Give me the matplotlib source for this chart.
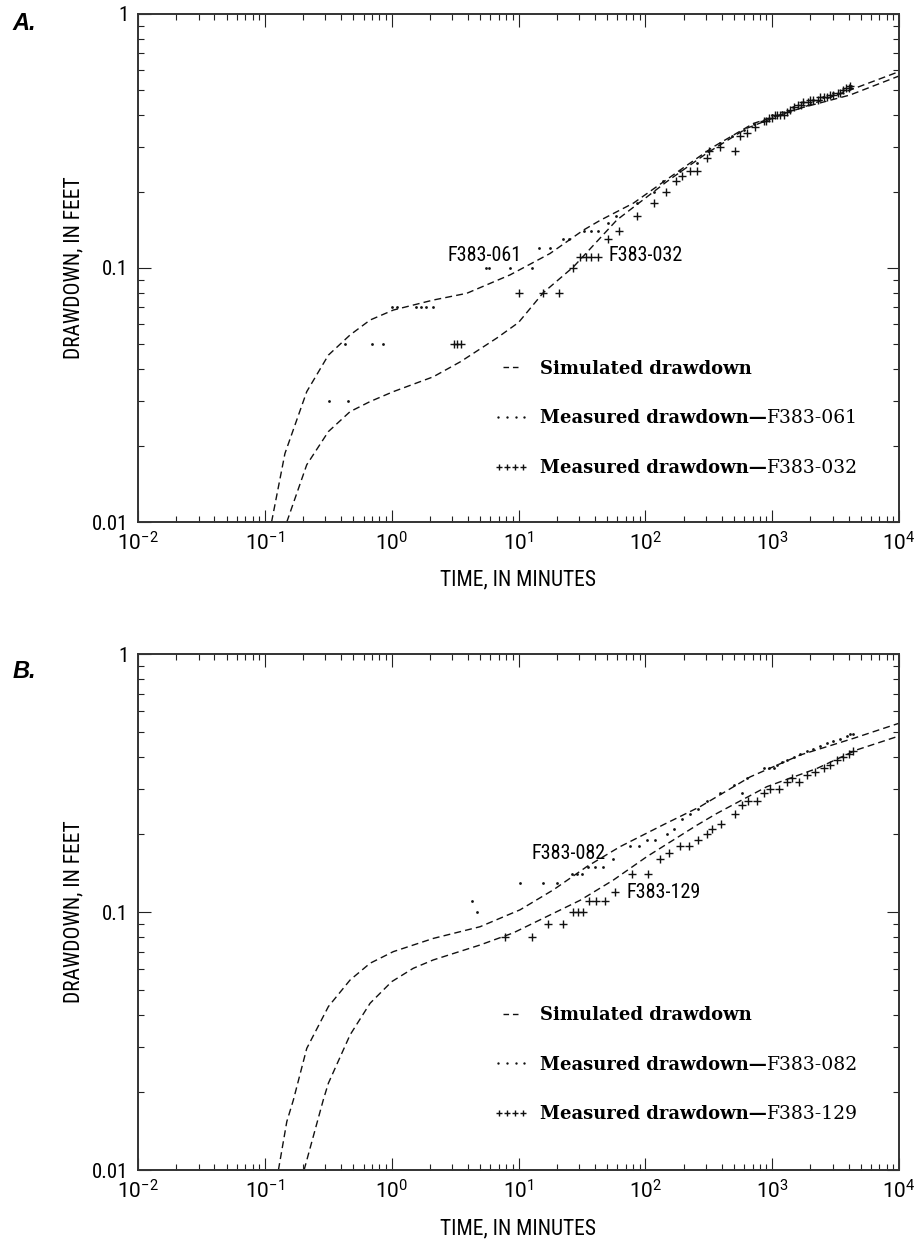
"""
Drawdown vs time, two log-log panels (A, B)
"""
import numpy as np
import matplotlib
matplotlib.use("Agg")
import matplotlib.pyplot as plt
import matplotlib.ticker as ticker
from matplotlib.lines import Line2D
from matplotlib.legend_handler import HandlerLine2D

# ---- Panel A: simulated curves ----
a_sim_061_t = [0.113, 0.144, 0.214, 0.317, 0.47, 0.676, 1.03, 2.13, 3.91, 8.6,
               17.7, 32.5, 44, 80.5, 188, 344, 713, 1663, 4120, 10000]
a_sim_061_d = [0.010, 0.0186, 0.0326, 0.0454, 0.0545, 0.0624, 0.0683, 0.0748, 0.0795, 0.094,
               0.114, 0.141, 0.154, 0.180, 0.243, 0.300, 0.371, 0.425, 0.502, 0.593]
a_sim_032_t = [0.149, 0.214, 0.317, 0.47, 0.676, 1.03, 2.13, 3.5, 6.75, 10,
               15.7, 27.1, 59.6, 148, 305, 632, 1500, 4120, 10000]
a_sim_032_d = [0.010, 0.0168, 0.0227, 0.0272, 0.0298, 0.0326, 0.0373, 0.0428, 0.053, 0.061,
               0.080, 0.101, 0.1545, 0.219, 0.283, 0.355, 0.420, 0.480, 0.570]

# ---- Panel A: measured ----
a_061_t = [0.32, 0.45, 0.43, 0.70, 0.86, 1.0, 1.1, 1.55, 1.7, 1.85, 2.1, 5.5, 5.9, 8.6,
           12.7, 14.4, 17.7, 22.5, 25, 33, 37, 42, 51, 59, 86, 116, 139, 188, 255, 314,
           390, 480, 600, 720, 850, 1000, 1200, 1450, 1750, 2100, 2500, 3000, 3600, 4200]
a_061_d = [0.03, 0.03, 0.05, 0.05, 0.05, 0.07, 0.07, 0.07, 0.07, 0.07, 0.07, 0.10, 0.10, 0.10,
           0.10, 0.12, 0.12, 0.13, 0.13, 0.14, 0.14, 0.14, 0.15, 0.16, 0.18, 0.20, 0.22, 0.24, 0.26, 0.29,
           0.31, 0.33, 0.35, 0.37, 0.38, 0.40, 0.41, 0.43, 0.45, 0.46, 0.47, 0.49, 0.50, 0.52]
a_032_t = [3.1, 3.3, 3.5, 10, 15.5, 21, 27, 30.6, 34, 37, 42.7, 51, 62, 86, 117, 145, 174, 194,
           226, 255, 305, 320, 389, 510, 560, 631, 735, 855, 900, 950, 995, 1050, 1096, 1150,
           1230, 1300, 1380, 1480, 1600, 1700, 1766, 1900, 2000, 2117, 2300, 2400, 2540, 2700,
           2850, 3042, 3300, 3450, 3650, 3850, 4000, 4120]
a_032_d = [0.05, 0.05, 0.05, 0.08, 0.08, 0.08, 0.10, 0.11, 0.11, 0.11, 0.11, 0.13, 0.14, 0.16, 0.18, 0.20, 0.22, 0.23,
           0.24, 0.24, 0.27, 0.29, 0.30, 0.29, 0.33, 0.34, 0.36, 0.38, 0.38, 0.39, 0.39, 0.40, 0.40, 0.40,
           0.40, 0.41, 0.42, 0.43, 0.44, 0.44, 0.45, 0.45, 0.46, 0.46, 0.46, 0.47, 0.47, 0.47,
           0.48, 0.48, 0.49, 0.49, 0.50, 0.51, 0.51, 0.52]

# ---- Panel B: simulated curves ----
b_sim_082_t = [0.128, 0.149, 0.168, 0.214, 0.317, 0.47, 0.676, 1.03, 2.13, 4.98,
               10.3, 18.9, 34.6, 63, 139, 270, 671, 1665, 4375, 10000]
b_sim_082_d = [0.010, 0.0154, 0.0187, 0.0296, 0.043, 0.0545, 0.0633, 0.0702, 0.079, 0.0877,
               0.102, 0.122, 0.150, 0.179, 0.218, 0.256, 0.334, 0.406, 0.471, 0.539]
b_sim_129_t = [0.204, 0.289, 0.317, 0.47, 0.676, 1.0, 1.48, 2.13, 4.98, 9.1,
               16.7, 30.6, 56, 103, 255, 366, 908, 2250, 4650, 10000]
b_sim_129_d = [0.010, 0.0187, 0.0217, 0.0334, 0.0443, 0.0537, 0.0605, 0.0652, 0.0745, 0.083,
               0.096, 0.111, 0.133, 0.164, 0.217, 0.241, 0.306, 0.360, 0.425, 0.481]

# ---- Panel B: measured ----
b_082_t = [4.3, 4.7, 10.3, 15.6, 20, 26.3, 29.1, 31.5, 35, 40, 46, 56, 76, 89, 103, 119, 148,
           167, 194, 225, 262, 305, 389, 496, 577, 632, 855, 940, 1030, 1100, 1200, 1300, 1473,
           1650, 1877, 2100, 2392, 2700, 3042, 3400, 3880, 4100, 4375]
b_082_d = [0.11, 0.10, 0.13, 0.13, 0.13, 0.14, 0.14, 0.14, 0.15, 0.15, 0.15, 0.16, 0.18, 0.18, 0.19, 0.19, 0.20,
           0.21, 0.23, 0.24, 0.25, 0.27, 0.29, 0.31, 0.29, 0.33, 0.36, 0.36, 0.36, 0.37, 0.38, 0.39, 0.40,
           0.41, 0.42, 0.43, 0.44, 0.45, 0.46, 0.47, 0.48, 0.49, 0.49]
b_129_t = [7.8, 12.7, 17.2, 22.3, 27, 29.7, 32.5, 36, 41, 48, 58, 78, 105, 131, 155, 188, 220,
           262, 309, 334, 398, 510, 575, 650, 757, 855, 964, 1122, 1306, 1430, 1614, 1877, 2180,
           2540, 2865, 3236, 3650, 4000, 4375]
b_129_d = [0.08, 0.08, 0.09, 0.09, 0.10, 0.10, 0.10, 0.11, 0.11, 0.11, 0.12, 0.14, 0.14, 0.16, 0.17, 0.18, 0.18,
           0.19, 0.20, 0.21, 0.22, 0.24, 0.26, 0.27, 0.27, 0.29, 0.30, 0.30, 0.32, 0.33, 0.32, 0.34, 0.35,
           0.36, 0.37, 0.39, 0.40, 0.41, 0.42]

x_limits = (1e-2, 1e4)
y_limits = (0.01, 1)
x_tick_exponents = [-2, -1, 0, 1, 2, 3, 4]
y_tick_values = [0.01, 0.1, 1]
y_tick_labels = ["0.01", "0.1", "1"]

SANS = ["Liberation Sans Narrow", "Roboto Condensed", "Roboto", "DejaVu Sans"]
SERIF = ["DejaVu Serif"]

plt.rcParams["font.family"] = SANS
plt.rcParams["mathtext.fontset"] = "custom"
plt.rcParams["mathtext.rm"] = "Roboto"
plt.rcParams["mathtext.default"] = "rm"

INK = "#111111"
TICK_SIZE = 15
LABEL_SIZE = 15.5
WELL_SIZE = 14.5


def minor_positions(lo_exp, hi_exp):
    return [m * 10.0 ** e for e in range(lo_exp, hi_exp) for m in range(2, 10)]


def setup_axes(ax):
    ax.set_xscale("log")
    ax.set_yscale("log")
    ax.set_xlim(*x_limits)
    ax.set_ylim(*y_limits)

    ax.xaxis.set_major_locator(ticker.FixedLocator([10.0 ** e for e in x_tick_exponents]))
    ax.xaxis.set_minor_locator(ticker.FixedLocator(minor_positions(-2, 4)))
    ax.xaxis.set_major_formatter(
        ticker.FixedFormatter([r"$\mathrm{10^{%d}}$" % e for e in x_tick_exponents])
    )
    ax.xaxis.set_minor_formatter(ticker.NullFormatter())

    ax.yaxis.set_major_locator(ticker.FixedLocator(y_tick_values))
    ax.yaxis.set_major_formatter(ticker.FixedFormatter(y_tick_labels))
    ax.yaxis.set_minor_locator(ticker.FixedLocator(minor_positions(-2, 0)))
    ax.yaxis.set_minor_formatter(ticker.NullFormatter())

    ax.tick_params(which="both", direction="in", top=True, right=True,
                   width=0.8, color="#222222")
    ax.tick_params(which="major", length=9, labelsize=TICK_SIZE, pad=7)
    ax.tick_params(which="minor", length=4.5)
    for s in ax.spines.values():
        s.set_linewidth(1.4)
        s.set_color("#333333")

    ax.set_xlabel("TIME, IN MINUTES", fontsize=LABEL_SIZE)
    ax.set_ylabel("DRAWDOWN, IN FEET", fontsize=LABEL_SIZE)
    ax.xaxis.set_label_coords(0.5, -0.093)
    ax.yaxis.set_label_coords(-0.07, 0.5)


def draw_panel(ax, sim_up, sim_lo, dots, crosses, id_dots, id_cross):
    for t, d in (sim_up, sim_lo):
        ax.plot(t, d, color=INK, lw=1.0, dashes=(5, 3))
    ax.plot(dots[0], dots[1], ls="none", marker="o", ms=2.0, color=INK, mew=0)
    ax.plot(crosses[0], crosses[1], ls="none", marker="+", ms=6, mew=1.0, color=INK)

    h_sim = Line2D([], [], color=INK, lw=1.0, dashes=(4, 2.8))
    h_dot = Line2D([], [], color=INK, ls="none", marker="o", ms=1.7, mew=0)
    h_crs = Line2D([], [], color=INK, ls="none", marker="+", ms=5, mew=1.0)
    leg = ax.legend(
        [h_sim, h_dot, h_crs],
        ["Simulated drawdown", "Measured drawdown\u2014", "Measured drawdown\u2014"],
        handler_map={h_dot: HandlerLine2D(marker_pad=0.05, numpoints=4),
                     h_crs: HandlerLine2D(marker_pad=0.1, numpoints=4)},
        loc="center left", bbox_to_anchor=(0.472, 0.204),
        frameon=False, numpoints=4, handlelength=1.55, handletextpad=0.8,
        labelspacing=1.75, borderpad=0, borderaxespad=0,
        prop={"family": SERIF, "weight": "bold", "size": 13},
    )
    texts = leg.get_texts()
    for txt, well in ((texts[1], id_dots), (texts[2], id_cross)):
        ax.annotate(well, xy=(1, 0), xycoords=txt, ha="left", va="bottom",
                    family=SERIF, fontsize=13.5, zorder=6)


fig = plt.figure(figsize=(9.18, 12.39), dpi=100)
ax_a = fig.add_axes([138 / 918, 1 - 522 / 1239, 761 / 918, 508 / 1239])
ax_b = fig.add_axes([138 / 918, 1 - 1170 / 1239, 761 / 918, 516 / 1239])

for ax in (ax_a, ax_b):
    setup_axes(ax)

draw_panel(ax_a, (a_sim_061_t, a_sim_061_d), (a_sim_032_t, a_sim_032_d),
           (a_061_t, a_061_d), (a_032_t, a_032_d), "F383-061", "F383-032")
ax_a.text(10.7, 0.1125, "F383-061", ha="right", va="center", fontsize=WELL_SIZE)
ax_a.text(51, 0.112, "F383-032", ha="left", va="center", fontsize=WELL_SIZE)

draw_panel(ax_b, (b_sim_082_t, b_sim_082_d), (b_sim_129_t, b_sim_129_d),
           (b_082_t, b_082_d), (b_129_t, b_129_d), "F383-082", "F383-129")
ax_b.text(12.7, 0.169, "F383-082", ha="left", va="center", fontsize=WELL_SIZE)
ax_b.text(70.5, 0.119, "F383-129", ha="left", va="center", fontsize=WELL_SIZE)

label_font = dict(fontsize=17, fontweight="bold", fontstyle="italic",
                  family=["Liberation Sans", "DejaVu Sans"], ha="center", va="center")
fig.text(24 / 918, 1 - 24 / 1239, "A.", **label_font)
fig.text(24 / 918, 1 - 672 / 1239, "B.", **label_font)

fig.savefig("out.png", dpi=100)
plt.close(fig)
